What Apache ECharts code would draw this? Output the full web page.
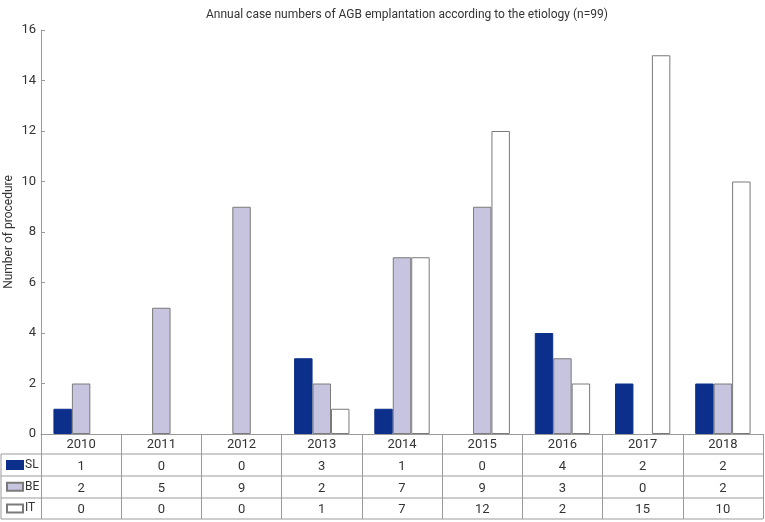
<!DOCTYPE html>
<html>
<head>
<meta charset="utf-8">
<script src="https://cdn.jsdelivr.net/npm/echarts@6/dist/echarts.min.js"></script>
<style>html,body{margin:0;padding:0;background:#fff}#c{width:765px;height:522px}</style>
</head>
<body>
<div id="c"></div>
<script>
var years = ['2010','2011','2012','2013','2014','2015','2016','2017','2018'];
var SL = [1, 0, 0, 3, 1, 0, 4, 2, 2];
var BE = [2, 5, 9, 2, 7, 9, 3, 0, 2];
var IT = [0, 0, 0, 1, 7, 12, 2, 15, 10];
var yTicks = [0, 2, 4, 6, 8, 10, 12, 14, 16];

var FONT = "Roboto,'Liberation Sans',sans-serif";
var chart = echarts.init(document.getElementById('c'), null, {renderer: 'canvas'});
function bars(a){ return a.map(function(v){ return v === 0 ? null : v; }); }
var lineC = '#9a9a9a';
var rowY = [454, 476, 498, 519];
var graphics = rowY.map(function(y){
  return {type:'line', shape:{x1:1, y1:y, x2:763, y2:y}, style:{stroke:lineC, lineWidth:1}, silent:true};
});
graphics.push({type:'line', shape:{x1:1, y1:454, x2:1, y2:519}, style:{stroke:lineC, lineWidth:1}});

chart.setOption({
  backgroundColor: '#fff',
  textStyle: {fontFamily: FONT},
  title: {
    text: 'Annual case numbers of AGB emplantation according to the etiology (n=99)',
    left: 402, top: 4, textAlign: 'center',
    textStyle: {fontSize: 12, fontWeight: 'normal', color: '#333', fontFamily: FONT}
  },
  legend: {
    orient: 'vertical', left: 6, top: 458, height: 70, padding: 0, itemWidth: 16, itemHeight: 8, itemGap: 7.7,
    icon: 'rect',
    textStyle: {fontSize: 12, color: '#333', fontFamily: FONT, padding: [0,0,0,-3], lineHeight: 14},
    data: ['SL','BE','IT']
  },
  grid: {left: 41, right: 2, top: 30, bottom: 88, containLabel: false, outerBoundsMode: 'none'},
  xAxis: {
    type: 'category', data: years,
    axisLine: {show: true, lineStyle: {color: lineC}},
    axisTick: {show: true, interval: 0, length: 85, lineStyle: {color: lineC}},
    axisLabel: {
      show: true, margin: 0, interval: 0, color: '#333', fontSize: 13, lineHeight: 21.7, fontFamily: FONT,
      formatter: function(v, i){ return [v, SL[i], BE[i], IT[i]].join('\n'); }
    }
  },
  yAxis: {
    type: 'value', min: yTicks[0], max: yTicks[yTicks.length-1], interval: 2,
    name: 'Number of procedure', nameLocation: 'middle', nameGap: 26, nameRotate: 90,
    nameMoveOverlap: false,
    nameTextStyle: {fontSize: 12, color: '#333', fontFamily: FONT},
    axisLine: {show: true, lineStyle: {color: lineC}},
    axisTick: {show: true, inside: true, length: 4, lineStyle: {color: lineC}},
    axisLabel: {color: '#333', fontSize: 13, margin: 5, fontFamily: FONT},
    splitLine: {show: false}
  },
  series: [
    {name:'SL', type:'bar', data: bars(SL), barWidth: '23%', barGap: '0%',
     itemStyle:{color:'#0b2f8a', borderColor:'#0b2f8a', borderWidth:1}},
    {name:'BE', type:'bar', data: bars(BE), barWidth: '23%', barGap: '0%',
     itemStyle:{color:'#c6c4df', borderColor:'#7a7a7a', borderWidth:1}},
    {name:'IT', type:'bar', data: bars(IT), barWidth: '23%', barGap: '0%',
     itemStyle:{color:'#ffffff', borderColor:'#7a7a7a', borderWidth:1}}
  ],
  graphic: graphics
});
</script>
</body>
</html>
